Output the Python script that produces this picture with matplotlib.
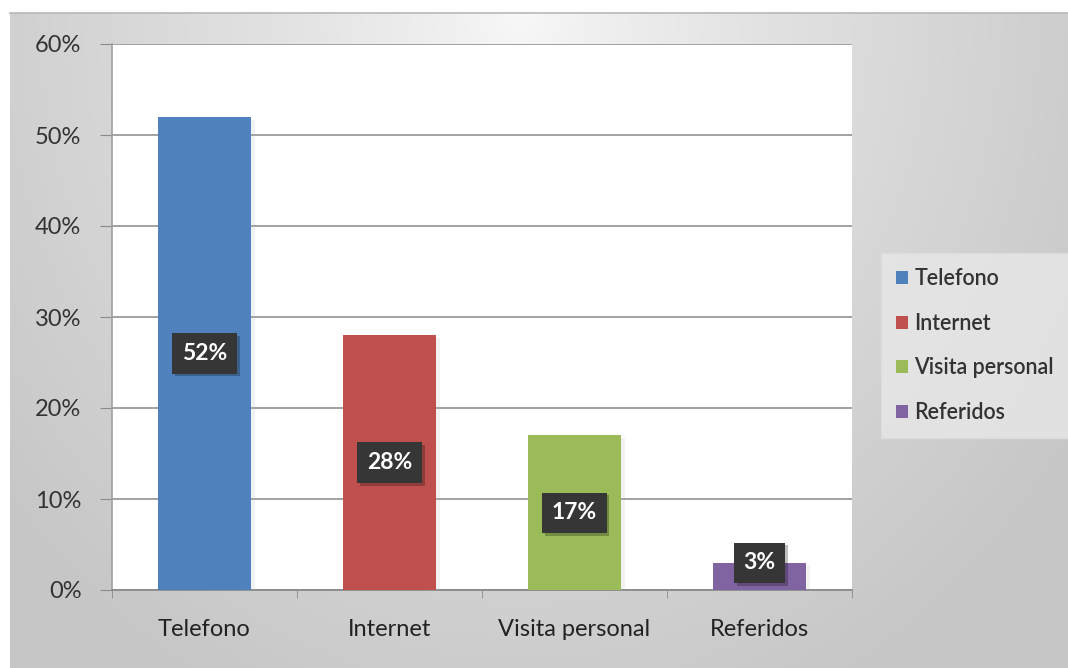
import numpy as np
import matplotlib.pyplot as plt
import matplotlib.patheffects as pe
from matplotlib.patches import Patch
from matplotlib.ticker import FuncFormatter, FixedLocator

# Canales de contacto (porcentaje)
categorias = ['Telefono', 'Internet', 'Visita personal', 'Referidos']
valores = [52, 28, 17, 3]
colores = ['#4F81BD', '#C0504D', '#9BBB59', '#8064A2']
yticks = [0, 10, 20, 30, 40, 50, 60]

plt.rcParams['font.family'] = ['Lato', 'DejaVu Sans']

W, H = 1068, 668
fig = plt.figure(figsize=(W / 100, H / 100), dpi=100)
fig.patch.set_facecolor('white')

# Fondo del grafico con degradado gris
bg = fig.add_axes([10 / W, 0, 1 - 10 / W, (H - 13) / H], zorder=0)
xx, yy = np.meshgrid(np.linspace(10, W, 400), np.linspace(13, H, 300))
r = np.sqrt(((xx - 520) / 560) ** 2 + ((yy - 13) / 640) ** 2)
c = np.clip(0.975 - 0.17 * r ** 0.8, 0.78, 1)
bg.imshow(np.dstack([c, c, c]), aspect='auto', extent=(0, 1, 0, 1), origin='upper')
bg.axis('off')
fig.add_artist(plt.Line2D([10 / W, 1], [(H - 13) / H] * 2, color='#b8b8b8', lw=1.2))

ax = fig.add_axes([112 / W, 78 / H, 740 / W, 546 / H], zorder=2)
ax.set_facecolor('white')

x = np.arange(len(categorias))
barras = ax.bar(x, valores, width=0.5, color=colores, zorder=3)
for b in barras:
    b.set_path_effects([pe.SimplePatchShadow(offset=(3, -2), shadow_rgbFace='#aaaaaa', alpha=0.15),
                        pe.Normal()])

# Etiquetas de valor en cajas oscuras
for xi, v in zip(x, valores):
    yl = v / 2 if v / 2 > 2 else v
    t = ax.text(xi, yl, f'{v}%', ha='center', va='center', color='white',
                fontsize=16.5, fontweight='bold', zorder=5,
                bbox=dict(boxstyle='square,pad=0.42', fc='#363636', ec='none'))
    t.get_bbox_patch().set_path_effects([
        pe.SimplePatchShadow(offset=(2, -2), shadow_rgbFace='black', alpha=0.25), pe.Normal()])

ax.set_xlim(-0.5, len(categorias) - 0.5)
ax.set_ylim(0, 60)
ax.set_yticks(yticks)
ax.yaxis.set_major_formatter(FuncFormatter(lambda v, p: f'{v:.0f}%'))
ax.set_xticks(x)
ax.set_xticklabels(categorias)
ax.xaxis.set_minor_locator(FixedLocator(np.arange(-0.5, len(categorias), 1.0)))
ax.tick_params(axis='x', which='major', length=0, pad=21, labelsize=17, labelcolor='#222222')
ax.tick_params(axis='x', which='minor', length=6, color='#8a8a8a', direction='out')
ax.tick_params(axis='y', length=9, color='#8a8a8a', pad=13, labelsize=17, labelcolor='#333333')
ax.grid(axis='y', color='#9a9a9a', lw=1.3, zorder=1)
for s in ['top', 'right']:
    ax.spines[s].set_visible(False)
ax.spines['left'].set_color('#a0a0a0')
ax.spines['bottom'].set_color('#8a8a8a')
ax.spines['left'].set_linewidth(1.2)
ax.spines['bottom'].set_linewidth(1.3)

handles = [Patch(facecolor=col, edgecolor='none', label=cat) for cat, col in zip(categorias, colores)]
leg = fig.legend(handles=handles, loc='upper left', bbox_to_anchor=(881 / W, 1 - 253 / H),
                 frameon=True, fancybox=False, fontsize=15.5, handlelength=0.55, handleheight=0.55,
                 handletextpad=0.3, labelspacing=1.1, borderpad=0.7, borderaxespad=0)
leg.get_frame().set_facecolor('#e8e8e8')
leg.get_frame().set_edgecolor('#dddddd')
for txt in leg.get_texts():
    txt.set_color('#333333')
    txt.set_fontweight('semibold')
leg.set_zorder(4)

fig.savefig('out.png', dpi=100)
